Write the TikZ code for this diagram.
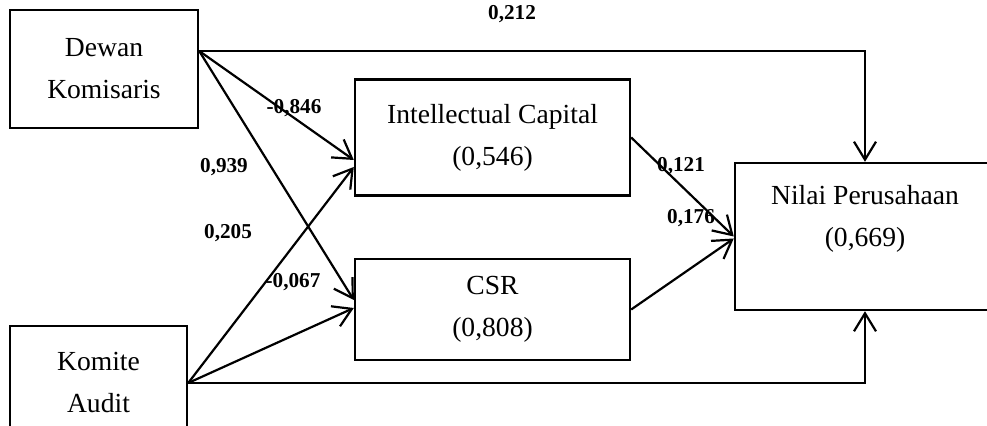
\documentclass[tikz,border=0pt]{standalone}
\usepackage{fontspec}
\setmainfont{Liberation Serif}
\usepackage{tikz}
\usetikzlibrary{arrows.meta}

\begin{document}
\begin{tikzpicture}[
    x=0.5pt, y=-0.5pt,
    every node/.style={font=\fontsize{13.8}{21}\selectfont},
    box/.style={rectangle, draw, line width=1.2pt, align=center, inner sep=0pt},
    coef/.style={font=\bfseries\fontsize{10.6}{12}\selectfont, inner sep=0pt},
    arrow/.style={-{Straight Barb[length=9pt, width=11pt]}, line width=1.1pt},
    link/.style={-{Straight Barb[length=9pt, width=11pt, line width=1.1pt]}, line width=0.7pt}
]
\path[use as bounding box, clip] (0,0) rectangle (987,426);

\node[box, minimum width=94pt, minimum height=59pt] (dewan) at (104,69) {Dewan\\Komisaris};
\node[box, minimum width=88.5pt, minimum height=57pt] (komite) at (98.5,383) {Komite\\Audit};
\node[box, minimum width=137.5pt, minimum height=58pt] (ic) at (492.5,137.5) {Intellectual Capital\\(0,546)};
\node[box, minimum width=137.5pt, minimum height=50.5pt] (csr) at (492.5,309.5) {CSR\\(0,808)};
\node[box, minimum width=130pt, minimum height=73.5pt] (nilai) at (865,236.5) {Nilai Perusahaan\\(0,669)\\\mbox{}};

\coordinate (dout) at ([yshift=9pt]dewan.east);
\coordinate (kout) at (komite.east);

% direct paths
\draw[link] (dout) -| (nilai.north);
\draw[link] (kout) -| (nilai.south);

% paths through the mediators
\draw[arrow] (dout) -- ([yshift=-11.25pt]ic.west);
\draw[arrow] (dout) -- ([yshift=4.75pt]csr.west);
\draw[arrow] (kout) -- ([yshift=-14.75pt]ic.west);
\draw[arrow] (kout) -- ([yshift=0.75pt]csr.west);
\draw[arrow] (ic.east) -- (nilai.west);
\draw[arrow] (csr.east) -- ([yshift=-1pt]nilai.west);

\node[coef] (c1) at (512,14) {0,212};
\node[coef] (c2) at (294,108) {-0,846};
\node[coef] (c3) at (224,167) {0,939};
\node[coef] (c4) at (228,233) {0,205};
\node[coef] (c5) at (293,282) {-0,067};
\node[coef] (c6) at (681,166) {0,121};
\node[coef] (c7) at (691,218) {0,176};

\end{tikzpicture}
\end{document}
